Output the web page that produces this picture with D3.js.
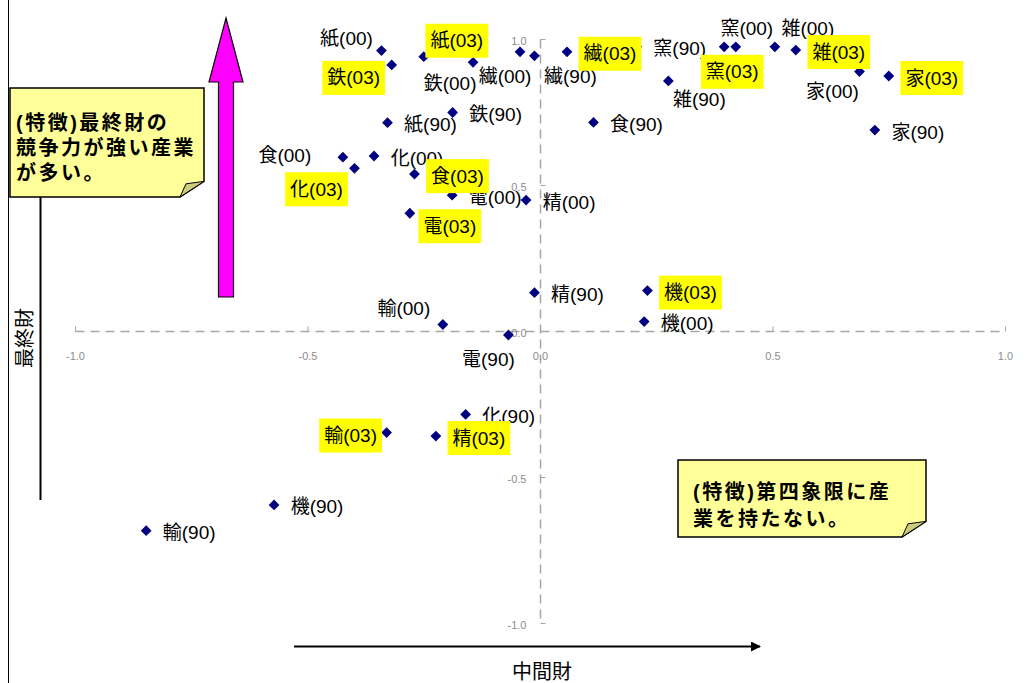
<!DOCTYPE html>
<html lang="ja">
<head>
<meta charset="UTF-8">
<title>中間財・最終財</title>
<script src="https://d3js.org/d3.v7.min.js"></script>
<style>
  body { margin: 0; background: #fff; }
  svg { display: block; font-family: "Liberation Sans", "Noto Sans CJK JP", sans-serif; }
  .tick-label { fill: #8c8c8c; font-size: 11px; }
  .pt-label { font-size: 19px; fill: #000; }
  .note { font-size: 20px; font-weight: bold; fill: #000; letter-spacing: 2.5px; }
</style>
</head>
<body>
<div id="chart"></div>
<script>
// industries and the three survey years
const industries = ["食", "繊", "紙", "化", "窯", "鉄", "機", "電", "輸", "精", "家", "雑"];
const years = ["90", "00", "03"];

// x = 中間財, y = 最終財, one value per industry (same order as above)
const x90 = [0.114, -0.013, -0.329, -0.161, 0.207, -0.189, -0.573, -0.069, -0.848, -0.013, 0.719, 0.275];
const y90 = [0.716, 0.944, 0.715, -0.284, 0.975, 0.750, -0.594, -0.012, -0.682, 0.133, 0.690, 0.858];
const x00 = [-0.425, -0.044, -0.342, -0.358, 0.420, -0.145, 0.223, -0.190, -0.210, -0.031, 0.686, 0.504];
const y00 = [0.597, 0.958, 0.962, 0.601, 0.975, 0.922, 0.034, 0.467, 0.024, 0.450, 0.890, 0.975];
const x03 = [-0.271, 0.057, -0.251, -0.400, 0.395, -0.320, 0.230, -0.281, -0.331, -0.225, 0.749, 0.549];
const y03 = [0.539, 0.958, 0.941, 0.559, 0.975, 0.913, 0.140, 0.405, -0.346, -0.358, 0.875, 0.964];

const axisTicks = [-1.0, -0.5, 0.0, 0.5, 1.0];

// label nudges (px, centre of label relative to the point); default is right of point
const labelNudge = {
  "紙(00)": [-35, -12], "鉄(03)": [-38, 13], "紙(03)": [33, -16], "鉄(00)": [-23, 21],
  "繊(00)": [-15, 25], "繊(90)": [36, 21], "窯(00)": [11, -18], "窯(03)": [8, 25],
  "雑(00)": [33, -18], "家(00)": [-27, 20], "雑(90)": [31, 19], "食(00)": [-58, -2],
  "化(03)": [-38, 21], "電(03)": [40, 13], "輸(00)": [-39, -16], "電(90)": [-20, 24],
  "輸(03)": [-36, 3]
};

const W = 1032, H = 683;
const xs = { "90": x90, "00": x00, "03": x03 };
const ys = { "90": y90, "00": y00, "03": y03 };

const points = [];
years.forEach(yr => {
  industries.forEach((ind, i) => {
    points.push({ name: `${ind}(${yr})`, year: yr, x: xs[yr][i], y: ys[yr][i] });
  });
});

const svg = d3.select("#chart").append("svg")
  .attr("width", W).attr("height", H);

svg.append("rect").attr("width", W).attr("height", H).attr("fill", "#fff");
// outer frame edge
svg.append("line").attr("x1", 8.5).attr("x2", 8.5).attr("y1", 0).attr("y2", H)
  .attr("stroke", "#000").attr("stroke-width", 1);

const x = d3.scaleLinear().domain([-1, 1]).range([75.5, 1005.5]);
const y = d3.scaleLinear().domain([-1, 1]).range([623.5, 39.5]);

// dashed axes crossing at origin
const axisColor = "#a6a6a6";
svg.append("line")
  .attr("x1", x(-1)).attr("x2", x(1)).attr("y1", y(0)).attr("y2", y(0))
  .attr("stroke", axisColor).attr("stroke-width", 1.5).attr("stroke-dasharray", "9,6");
svg.append("line")
  .attr("x1", x(0)).attr("x2", x(0)).attr("y1", y(1)).attr("y2", y(-1))
  .attr("stroke", axisColor).attr("stroke-width", 1.5).attr("stroke-dasharray", "9,6");

svg.selectAll(".xtick").data(axisTicks).enter().append("line")
  .attr("x1", d => x(d)).attr("x2", d => x(d))
  .attr("y1", y(0)).attr("y2", y(0) - 5)
  .attr("stroke", axisColor).attr("stroke-width", 1);
svg.selectAll(".ytick").data(axisTicks).enter().append("line")
  .attr("x1", x(0)).attr("x2", x(0) + 5)
  .attr("y1", d => y(d)).attr("y2", d => y(d))
  .attr("stroke", axisColor).attr("stroke-width", 1);

svg.selectAll(".xlab").data(axisTicks).enter().append("text")
  .attr("class", "tick-label")
  .attr("x", d => x(d)).attr("y", y(0) + 24)
  .attr("text-anchor", "middle").attr("dominant-baseline", "central")
  .text(d => d.toFixed(1));
svg.selectAll(".ylab").data(axisTicks).enter().append("text")
  .attr("class", "tick-label")
  .attr("x", x(0) - 14).attr("y", d => y(d) + 1)
  .attr("text-anchor", "end").attr("dominant-baseline", "central")
  .text(d => d.toFixed(1));

// markers
svg.selectAll(".pt").data(points).enter().append("path")
  .attr("d", d3.symbol(d3.symbolSquare, 58))
  .attr("transform", d => `translate(${x(d.x)},${y(d.y)}) rotate(45)`)
  .attr("fill", "#000080");

// labels: normal ones first, highlighted (03) on top
const ordered = points.filter(d => d.year !== "03").concat(points.filter(d => d.year === "03"));
ordered.forEach(d => {
  const off = labelNudge[d.name] || [43, 2];
  const cx = x(d.x) + off[0], cy = y(d.y) + off[1];
  const g = svg.append("g");
  const t = g.append("text").attr("class", "pt-label")
    .attr("x", cx).attr("y", cy)
    .attr("text-anchor", "middle").attr("dominant-baseline", "central")
    .text(d.name);
  if (d.year === "03") {
    const b = t.node().getBBox();
    g.insert("rect", "text")
      .attr("x", b.x - 5).attr("y", cy - 17)
      .attr("width", b.width + 10).attr("height", 34)
      .attr("fill", "#ffff00");
  }
});

// magenta arrow
const ma = { x: 226, top: 18, headBase: 82, bottom: 297, hw: 17, sw: 7.5 };
svg.append("path")
  .attr("d", `M${ma.x},${ma.top} L${ma.x + ma.hw},${ma.headBase} L${ma.x + ma.sw},${ma.headBase}
    L${ma.x + ma.sw},${ma.bottom} L${ma.x - ma.sw},${ma.bottom} L${ma.x - ma.sw},${ma.headBase}
    L${ma.x - ma.hw},${ma.headBase} Z`)
  .attr("fill", "#ff00ff").attr("stroke", "#000").attr("stroke-width", 1.2);

// black axis arrows
const defs = svg.append("defs");
defs.append("marker").attr("id", "ah").attr("viewBox", "0 0 10 10")
  .attr("refX", 9).attr("refY", 5).attr("markerWidth", 6).attr("markerHeight", 5)
  .attr("markerUnits", "strokeWidth").attr("orient", "auto")
  .append("path").attr("d", "M0,0 L10,5 L0,10 Z").attr("fill", "#000");

svg.append("line").attr("x1", 294).attr("x2", 760).attr("y1", 646.5).attr("y2", 646.5)
  .attr("stroke", "#000").attr("stroke-width", 2).attr("marker-end", "url(#ah)");
svg.append("line").attr("x1", 40.5).attr("x2", 40.5).attr("y1", 500).attr("y2", 177)
  .attr("stroke", "#000").attr("stroke-width", 2).attr("marker-end", "url(#ah)");

svg.append("text").attr("x", 542).attr("y", 672)
  .attr("text-anchor", "middle").attr("dominant-baseline", "central")
  .attr("font-size", 20).text("中間財");
svg.append("text")
  .attr("transform", "translate(25,338) rotate(-90)")
  .attr("text-anchor", "middle").attr("dominant-baseline", "central")
  .attr("font-size", 20).text("最終財");

// folded-corner notes
function note(x0, y0, w, h, fold, lines, tx, ty, lh) {
  const g = svg.append("g");
  g.append("path")
    .attr("d", `M${x0},${y0} H${x0 + w} V${y0 + h - fold * 0.65} L${x0 + w - fold},${y0 + h} H${x0} Z`)
    .attr("fill", "#ffff99").attr("stroke", "#000").attr("stroke-width", 1.5);
  g.append("path")
    .attr("d", `M${x0 + w},${y0 + h - fold * 0.65} L${x0 + w - fold},${y0 + h} L${x0 + w - fold * 0.75},${y0 + h - fold * 0.55} Z`)
    .attr("fill", "#cccc7a").attr("stroke", "#000").attr("stroke-width", 1);
  lines.forEach((s, i) => {
    g.append("text").attr("class", "note")
      .attr("x", tx).attr("y", ty + i * lh)
      .attr("dominant-baseline", "central").text(s);
  });
}
note(10, 88, 194, 109, 24, ["(特徴)最終財の", "競争力が強い産業", "が多い。"], 16, 123, 25);
note(678, 460, 248, 77, 24, ["(特徴)第四象限に産", "業を持たない。"], 693, 492, 27);
</script>
</body>
</html>
